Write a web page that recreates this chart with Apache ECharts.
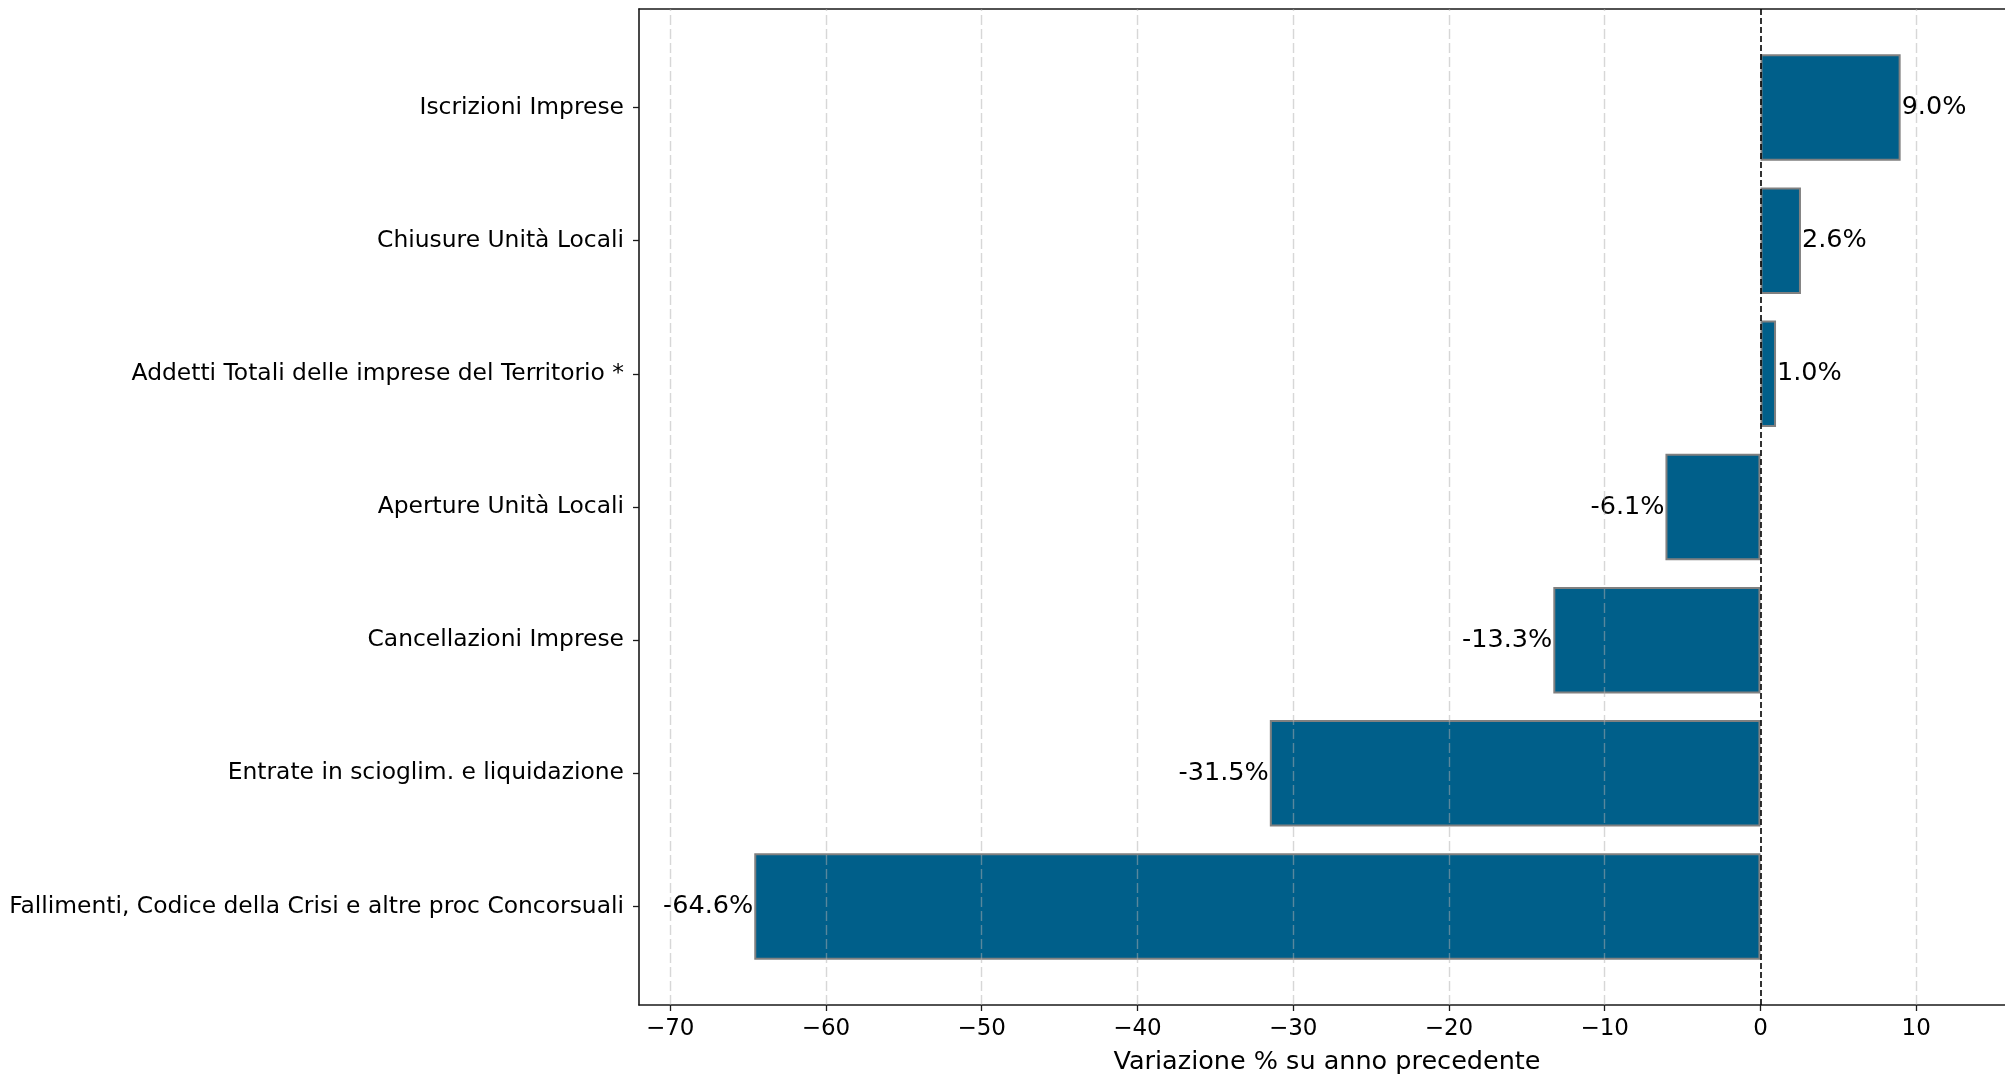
<!DOCTYPE html>
<html><head><meta charset="utf-8">
<script src="https://cdn.jsdelivr.net/npm/echarts@6/dist/echarts.min.js"></script>
<style>html,body{margin:0;padding:0;background:#fff}#c{width:2005px;height:1075px}</style>
</head><body><div id="c"></div>
<script>
const categories = [
  'Iscrizioni Imprese',
  'Chiusure Unità Locali',
  'Addetti Totali delle imprese del Territorio *',
  'Aperture Unità Locali',
  'Cancellazioni Imprese',
  'Entrate in scioglim. e liquidazione',
  'Fallimenti, Codice della Crisi e altre proc Concorsuali'
];
const values = [9.0, 2.6, 1.0, -6.1, -13.3, -31.5, -64.6];
const xTicks = [-70, -60, -50, -40, -30, -20, -10, 0, 10];
const xName = 'Variazione % su anno precedente';
const xMin = -72, xMax = 15.7;

const FONT = 'DejaVu Sans';
const SPINE = '#1a1a1a';
const chart = echarts.init(document.getElementById('c'), null, {renderer: 'canvas'});

const barData = values.map(v => ({
  value: v,
  label: { position: v < 0 ? 'left' : 'right' }
}));

const option = {
  animation: false,
  backgroundColor: '#ffffff',
  textStyle: { fontFamily: FONT },
  grid: [
    { left: 639, top: 9, right: 0, bottom: 70, containLabel: false, outerBoundsMode: 'none' },
    { left: 639, top: 41, right: 0, bottom: 102, containLabel: false, outerBoundsMode: 'none' }
  ],
  xAxis: [
    {
      gridIndex: 0, type: 'value', min: xMin, max: xMax, position: 'bottom',
      axisLine: { show: true, onZero: false, lineStyle: { color: SPINE, width: 1.6 } },
      axisTick: { show: true, customValues: xTicks, length: 6, lineStyle: { color: SPINE, width: 1.3 } },
      axisLabel: {
        customValues: xTicks, fontSize: 23, color: '#000', margin: 13, fontFamily: FONT,
        formatter: v => (v < 0 ? '\u2212' + Math.abs(v) : String(v))
      },
      splitLine: { show: false },
      name: xName, nameLocation: 'middle', nameGap: 44,
      nameTextStyle: { fontSize: 25.5, color: '#000', fontFamily: FONT, padding: [0, 0, 0, 10] }
    },
    { gridIndex: 1, type: 'value', min: xMin, max: xMax, show: false },
    {
      gridIndex: 0, type: 'value', min: xMin, max: xMax, position: 'top',
      axisLine: { show: true, onZero: false, lineStyle: { color: SPINE, width: 1.6 } },
      axisTick: { show: false }, axisLabel: { show: false }, splitLine: { show: false }
    }
  ],
  yAxis: [
    {
      gridIndex: 0, type: 'value', min: 0, max: 1, position: 'left',
      axisLine: { show: true, onZero: false, lineStyle: { color: SPINE, width: 1.6 } },
      axisTick: { show: false }, axisLabel: { show: false }, splitLine: { show: false }
    },
    {
      gridIndex: 1, type: 'category', data: categories, inverse: true, position: 'left',
      axisLine: { show: false, onZero: false },
      axisTick: { show: true, alignWithLabel: true, length: 6, lineStyle: { color: SPINE, width: 1.3 } },
      axisLabel: { fontSize: 23.4, color: '#000', margin: 15, fontFamily: FONT, padding: [5, 0, 0, 0] },
      splitLine: { show: false }
    }
  ],
  series: [
    {
      type: 'bar', xAxisIndex: 1, yAxisIndex: 1, data: barData, barWidth: '80%', z: 2,
      itemStyle: { color: '#005f8a', borderColor: '#808080', borderWidth: 2 },
      label: {
        show: true, distance: 1, fontSize: 25.5, color: '#000', fontFamily: FONT,
        formatter: p => p.value.toFixed(1) + '%'
      }
    },
    {
      type: 'line', xAxisIndex: 0, yAxisIndex: 0, data: [[xMin, -1]], symbol: 'none', z: 5, silent: true,
      lineStyle: { opacity: 0 },
      markLine: {
        silent: true, symbol: 'none', label: { show: false }, animation: false,
        lineStyle: { type: [10, 4], color: 'rgba(176,176,176,0.5)', width: 1.4 },
        data: xTicks.filter(v => v !== 0).map(v => ({ xAxis: v }))
      }
    },
    {
      type: 'line', xAxisIndex: 0, yAxisIndex: 0, data: [[xMin, -1]], symbol: 'none', z: 6, silent: true,
      lineStyle: { opacity: 0 },
      markLine: {
        silent: true, symbol: 'none', label: { show: false }, animation: false,
        lineStyle: { type: [6, 3], color: '#000', width: 1.6 },
        data: [{ xAxis: 0 }]
      }
    }
  ]
};
chart.setOption(option);
</script>
</body></html>
